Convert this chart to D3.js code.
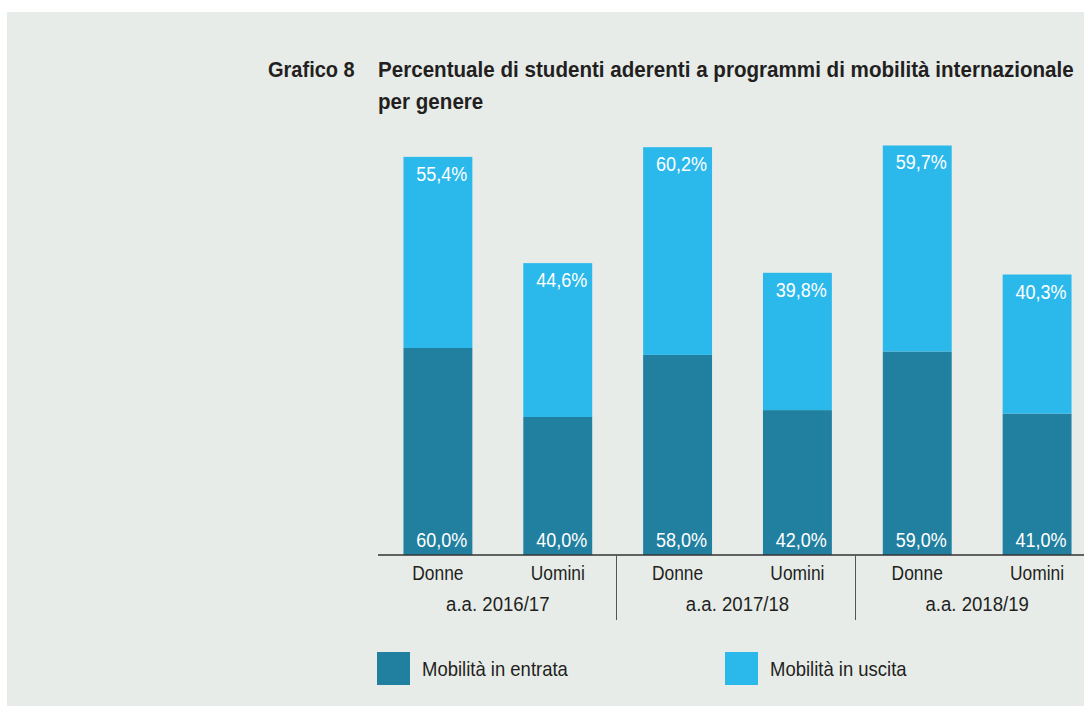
<!DOCTYPE html>
<html>
<head>
<meta charset="utf-8">
<script src="https://cdn.jsdelivr.net/npm/d3@7"></script>
<style>
    body { margin: 0; background: #ffffff; }
    svg { display: block; }
    text { font-family: "Liberation Sans", Arial, sans-serif; fill: #231f20; }
</style>
</head>
<body>
<div id="chart"></div>
<script>
// anni accademici e generi
var years = ["a.a. 2016/17", "a.a. 2017/18", "a.a. 2018/19"];
var genders = ["Donne", "Uomini"];
// percentuali (mobilità in entrata / in uscita), in ordine Donne, Uomini per anno
var entrata = [60.0, 40.0, 58.0, 42.0, 59.0, 41.0];
var uscita = [55.4, 44.6, 60.2, 39.8, 59.7, 40.3];
var seriesNames = ["Mobilità in entrata", "Mobilità in uscita"];
var colors = ["#217f9f", "#2bb9ec"];

var width = 1084, height = 706;
var fmt = function (v) { return d3.format(".1f")(v).replace(".", ",") + "%"; };

// simula un carattere condensato stringendo i glifi
function narrow(sel, f) {
    sel.each(function () {
        var w = this.getComputedTextLength();
        d3.select(this).attr("textLength", w * f).attr("lengthAdjust", "spacingAndGlyphs");
    });
}

var svg = d3.select("#chart").append("svg")
    .attr("width", width)
    .attr("height", height);

svg.append("rect")
    .attr("x", 7).attr("y", 12)
    .attr("width", width - 7).attr("height", height - 12)
    .attr("fill", "#e7ece9");

// titolo (stretto con una scala orizzontale)
svg.append("text")
    .attr("transform", "translate(268,77) scale(0.91,1)")
    .attr("font-size", 22).attr("font-weight", "bold")
    .text("Grafico 8");
svg.append("text")
    .attr("transform", "translate(378,77) scale(0.937,1)")
    .attr("font-size", 22).attr("font-weight", "bold")
    .text("Percentuale di studenti aderenti a programmi di mobilità internazionale");
svg.append("text")
    .attr("transform", "translate(378,108.5) scale(0.937,1)")
    .attr("font-size", 22).attr("font-weight", "bold")
    .text("per genere");

// dati piatti
var data = [];
years.forEach(function (y, i) {
    genders.forEach(function (g, j) {
        var k = i * genders.length + j;
        data.push({ key: y + "|" + g, year: y, gender: g, entrata: entrata[k], uscita: uscita[k] });
    });
});

var x = d3.scaleBand()
    .domain(data.map(function (d) { return d.key; }))
    .range([378, 1097])
    .paddingInner(0.425)
    .paddingOuter(0.2125);

var y = d3.scaleLinear()
    .domain([0, 120])
    .range([555, 141]);

var bars = svg.append("g").selectAll("g").data(data)
    .enter().append("g");

bars.append("rect")
    .attr("x", function (d) { return x(d.key); })
    .attr("width", x.bandwidth())
    .attr("y", function (d) { return y(d.entrata); })
    .attr("height", function (d) { return y(0) - y(d.entrata); })
    .attr("fill", colors[0]);

bars.append("rect")
    .attr("x", function (d) { return x(d.key); })
    .attr("width", x.bandwidth())
    .attr("y", function (d) { return y(d.entrata + d.uscita); })
    .attr("height", function (d) { return y(d.entrata) - y(d.entrata + d.uscita); })
    .attr("fill", colors[1]);

bars.append("text")
    .attr("x", function (d) { return x(d.key) + x.bandwidth() - 5; })
    .attr("y", y(0) - 8)
    .attr("text-anchor", "end")
    .attr("font-size", 20)
    .style("fill", "#ffffff")
    .text(function (d) { return fmt(d.entrata); })
    .call(narrow, 0.9);

bars.append("text")
    .attr("x", function (d) { return x(d.key) + x.bandwidth() - 5; })
    .attr("y", function (d) { return y(d.entrata + d.uscita) + 24; })
    .attr("text-anchor", "end")
    .attr("font-size", 20)
    .style("fill", "#ffffff")
    .text(function (d) { return fmt(d.uscita); })
    .call(narrow, 0.9);

// asse
svg.append("line")
    .attr("x1", 378).attr("x2", width)
    .attr("y1", y(0)).attr("y2", y(0))
    .attr("stroke", "#333333").attr("stroke-width", 1.5);

svg.append("g").selectAll("text").data(data)
    .enter().append("text")
    .attr("x", function (d) { return x(d.key) + x.bandwidth() / 2; })
    .attr("y", 580)
    .attr("text-anchor", "middle")
    .attr("font-size", 20)
    .text(function (d) { return d.gender; })
    .call(narrow, 0.87);

svg.append("g").selectAll("text").data(years)
    .enter().append("text")
    .attr("x", function (d) {
        return (x(d + "|" + genders[0]) + x(d + "|" + genders[1]) + x.bandwidth()) / 2;
    })
    .attr("y", 611)
    .attr("text-anchor", "middle")
    .attr("font-size", 20)
    .text(function (d) { return d; })
    .call(narrow, 0.93);

// separatori tra gli anni
svg.append("g").selectAll("line").data(years.slice(1))
    .enter().append("line")
    .attr("x1", function (d, i) {
        var prev = x(years[i] + "|" + genders[1]) + x.bandwidth();
        return Math.round((prev + x(d + "|" + genders[0])) / 2) - 1.5;
    })
    .attr("x2", function (d, i) {
        var prev = x(years[i] + "|" + genders[1]) + x.bandwidth();
        return Math.round((prev + x(d + "|" + genders[0])) / 2) - 1.5;
    })
    .attr("y1", y(0)).attr("y2", 620)
    .attr("stroke", "#555555").attr("stroke-width", 1);

// legenda
var legendX = [377, 725];
var legend = svg.append("g").selectAll("g").data(seriesNames)
    .enter().append("g")
    .attr("transform", function (d, i) { return "translate(" + legendX[i] + ",652)"; });

legend.append("rect")
    .attr("width", 33).attr("height", 33)
    .attr("fill", function (d, i) { return colors[i]; });

legend.append("text")
    .attr("x", 45).attr("y", 24)
    .attr("font-size", 21)
    .text(function (d) { return d; })
    .call(narrow, 0.88);
</script>
</body>
</html>
